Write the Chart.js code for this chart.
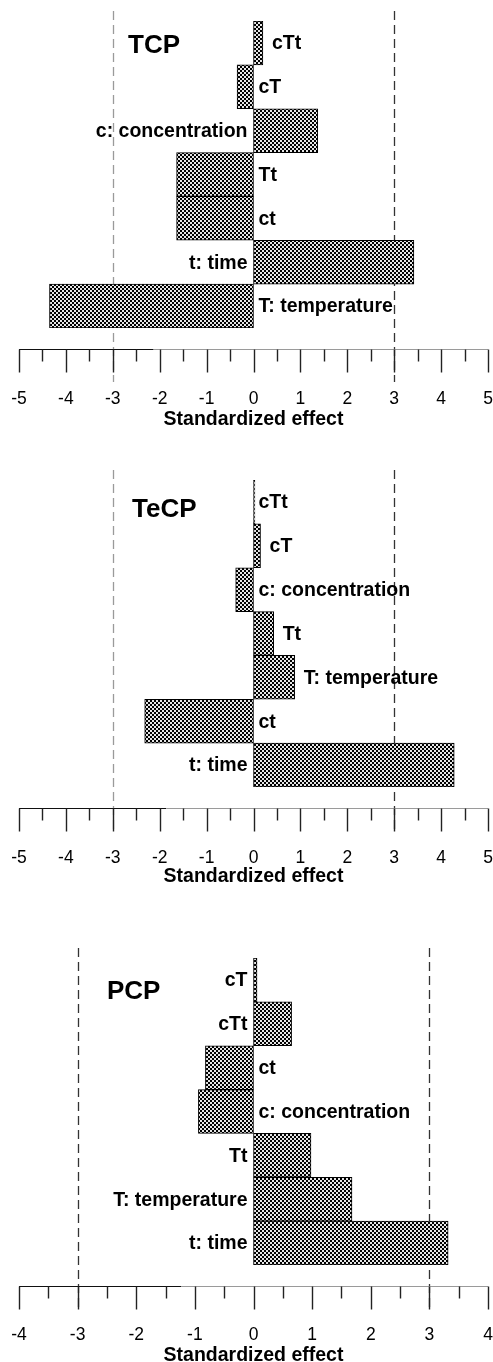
<!DOCTYPE html>
<html><head><meta charset="utf-8">
<script src="https://cdn.jsdelivr.net/npm/chart.js@4/dist/chart.umd.min.js"></script>
<style>
html,body{margin:0;padding:0;background:#fff;overflow:hidden;width:493px;height:1362px;}
.p{position:absolute;left:0;}
canvas{display:block;}
</style></head><body>
<div class="p" style="top:0px"><canvas id="c1" width="493" height="440"></canvas></div>
<div class="p" style="top:440px"><canvas id="c2" width="493" height="460"></canvas></div>
<div class="p" style="top:900px"><canvas id="c3" width="493" height="466"></canvas></div>
<script>
// ---------- data ----------
const tcpCategories  = ['cTt', 'cT', 'c: concentration', 'Tt', 'ct', 't: time', 'T: temperature'];
const tcpEffects     = [0.20, -0.35, 1.37, -1.64, -1.64, 3.42, -4.35];
const tecpCategories = ['cTt', 'cT', 'c: concentration', 'Tt', 'T: temperature', 'ct', 't: time'];
const tecpEffects    = [0.03, 0.15, -0.38, 0.43, 0.88, -2.32, 4.28];
const pcpCategories  = ['cT', 'cTt', 'ct', 'c: concentration', 'Tt', 'T: temperature', 't: time'];
const pcpEffects     = [0.06, 0.65, -0.82, -0.94, 0.98, 1.68, 3.32];

const ticks5      = [-5, -4, -3, -2, -1, 0, 1, 2, 3, 4, 5];
const tickLabels5 = ['-5', '-4', '-3', '-2', '-1', '0', '1', '2', '3', '4', '5'];
const minorTicks5 = [-4.5, -3.5, -2.5, -1.5, -0.5, 0.5, 1.5, 2.5, 3.5, 4.5];
const ticks4      = [-4, -3, -2, -1, 0, 1, 2, 3, 4];
const tickLabels4 = ['-4', '-3', '-2', '-1', '0', '1', '2', '3', '4'];
const minorTicks4 = [-3.5, -2.5, -1.5, -0.5, 0.5, 1.5, 2.5, 3.5];
const criticalValues = [-3, 3];
const axisTitle = 'Standardized effect';

// ---------- label placement (style) ----------
const tcpLabelPlace  = ['end', 'zero', 'left', 'zero', 'zero', 'left', 'zero'];
const tecpLabelPlace = ['zero', 'end', 'zero', 'end', 'end', 'zero', 'left'];
const pcpLabelPlace  = ['left', 'left', 'zero', 'zero', 'left', 'left', 'left'];

const FONT = '"Liberation Sans", Arial, Helvetica, sans-serif';

function makePattern() {
  const c = document.createElement('canvas');
  c.width = 4; c.height = 4;
  const g = c.getContext('2d');
  g.fillStyle = '#000'; g.fillRect(0, 0, 4, 4);
  g.fillStyle = '#e6e6e6';
  g.fillRect(0, 0, 2, 2);
  g.fillRect(2, 2, 2, 2);
  return document.createElement('canvas').getContext('2d').createPattern(c, 'repeat');
}

function panel(id, opt) {
  const pattern = makePattern();
  const deco = {
    id: 'deco',
    beforeDatasetsDraw(chart) {
      const ctx = chart.ctx, xs = chart.scales.x, ca = chart.chartArea;
      const axisY = ca.bottom + 21;
      ctx.save();
      ctx.lineWidth = 1.3;
      ctx.setLineDash([9, 5]);
      criticalValues.forEach((v, i) => {
        const px = Math.round(xs.getPixelForValue(v)) + 0.5;
        ctx.strokeStyle = opt.dashColors[i];
        ctx.beginPath();
        ctx.moveTo(px, ca.top - 10);
        ctx.lineTo(px, axisY + opt.dashBelow);
        ctx.stroke();
      });
      ctx.restore();
    },
    afterDatasetsDraw(chart) {
      const ctx = chart.ctx, xs = chart.scales.x, ca = chart.chartArea;
      const axisY = Math.round(ca.bottom + 21) + 0.5;
      ctx.save();
      const split = xs.getPixelForValue(opt.axisSplit);
      ctx.lineWidth = 1.2;
      ctx.strokeStyle = '#111';
      ctx.beginPath(); ctx.moveTo(xs.left, axisY); ctx.lineTo(split, axisY); ctx.stroke();
      ctx.strokeStyle = '#9a9a9a';
      ctx.beginPath(); ctx.moveTo(split, axisY); ctx.lineTo(xs.right, axisY); ctx.stroke();
      ctx.strokeStyle = '#222';
      ctx.lineWidth = 1.4;
      opt.major.forEach(v => {
        const px = Math.round(xs.getPixelForValue(v)) + 0.5;
        ctx.beginPath(); ctx.moveTo(px, axisY); ctx.lineTo(px, axisY + 23); ctx.stroke();
      });
      opt.minor.forEach(v => {
        const px = Math.round(xs.getPixelForValue(v)) + 0.5;
        ctx.beginPath(); ctx.moveTo(px, axisY); ctx.lineTo(px, axisY + 12); ctx.stroke();
      });
      const meta = chart.getDatasetMeta(0);
      ctx.fillStyle = '#000';
      ctx.font = 'bold 19.5px ' + FONT;
      ctx.textBaseline = 'middle';
      meta.data.forEach((bar, i) => {
        const zero = bar.base;
        const place = opt.place[i];
        let x;
        if (place === 'left') { ctx.textAlign = 'right'; x = zero - 6; }
        else if (place === 'zero') { ctx.textAlign = 'left'; x = zero + 5; }
        else { ctx.textAlign = 'left'; x = Math.max(bar.x, zero) + 9; }
        ctx.fillText(opt.categories[i], x, bar.y + 1);
      });
      ctx.font = 'bold 26px ' + FONT;
      ctx.textAlign = 'left';
      ctx.textBaseline = 'alphabetic';
      ctx.fillText(opt.title, opt.titleX, opt.titleY);
      ctx.restore();
    }
  };
  return new Chart(document.getElementById(id), {
    type: 'bar',
    data: {
      labels: opt.categories,
      datasets: [{
        data: opt.values,
        backgroundColor: pattern,
        borderColor: '#000',
        borderWidth: 1,
        borderSkipped: false,
        categoryPercentage: 1.0,
        barPercentage: 1.0
      }]
    },
    options: {
      indexAxis: 'y',
      responsive: false,
      animation: false,
      devicePixelRatio: 1,
      layout: { padding: { top: opt.padTop, left: 19, right: 5, bottom: opt.padBottom } },
      plugins: { legend: { display: false }, tooltip: { enabled: false } },
      scales: {
        y: { type: 'category', display: false },
        x: {
          type: 'linear',
          min: opt.major[0],
          max: opt.major[opt.major.length - 1],
          afterBuildTicks: s => { s.ticks = opt.major.map(v => ({ value: v })); },
          grid: { display: false, drawTicks: true, tickLength: opt.tickPad },
          border: { display: false },
          ticks: {
            autoSkip: false, maxRotation: 0, minRotation: 0, padding: 0, color: '#000',
            font: { family: FONT, size: 17.5, lineHeight: 1 },
            callback: (v, i) => opt.tickLabels[i]
          },
          title: {
            display: true, text: axisTitle, color: '#000',
            font: { family: FONT, size: 19.5, weight: 'bold', lineHeight: 1 },
            padding: { top: opt.titlePad, bottom: 0 }
          }
        }
      }
    },
    plugins: [deco]
  });
}

panel('c1', {
  categories: tcpCategories, values: tcpEffects, place: tcpLabelPlace,
  major: ticks5, tickLabels: tickLabels5, minor: minorTicks5,
  title: 'TCP', titleX: 128, titleY: 53,
  padTop: 21, padBottom: 11, tickPad: 62.5, titlePad: 1.5,
  dashColors: ['#9a9a9a', '#333'], dashBelow: 33, axisSplit: -2.13
});
panel('c2', {
  categories: tecpCategories, values: tecpEffects, place: tecpLabelPlace,
  major: ticks5, tickLabels: tickLabels5, minor: minorTicks5,
  title: 'TeCP', titleX: 132, titleY: 77,
  padTop: 40, padBottom: 14, tickPad: 62, titlePad: 0,
  dashColors: ['#9a9a9a', '#333'], dashBelow: 24, axisSplit: -1.86
});
panel('c3', {
  categories: pcpCategories, values: pcpEffects, place: pcpLabelPlace,
  major: ticks4, tickLabels: tickLabels4, minor: minorTicks4,
  title: 'PCP', titleX: 107, titleY: 99,
  padTop: 58, padBottom: 0.5, tickPad: 61.5, titlePad: 2,
  dashColors: ['#333', '#333'], dashBelow: 24, axisSplit: -1.23
});
</script>
</body></html>
